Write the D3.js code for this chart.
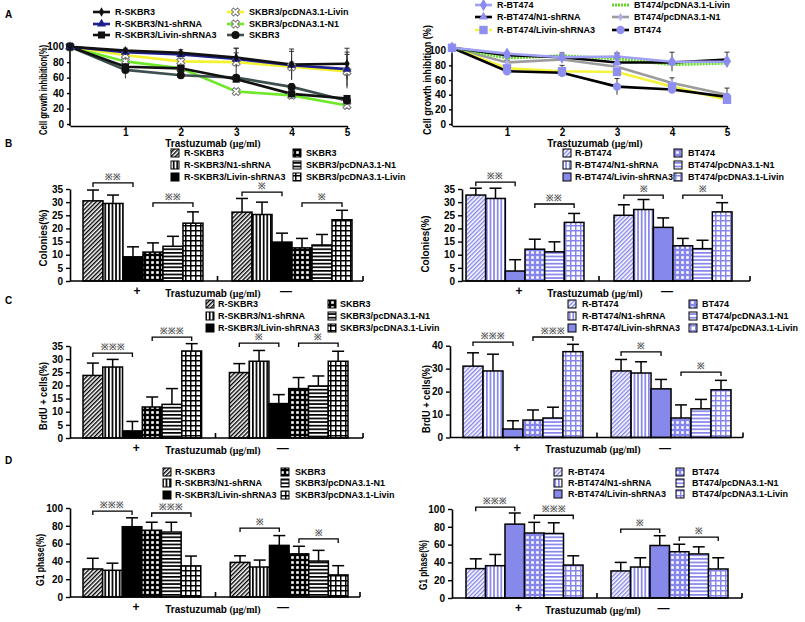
<!DOCTYPE html>
<html><head><meta charset="utf-8">
<script src="https://cdn.jsdelivr.net/npm/d3@7/dist/d3.min.js"></script>
<style>
body{margin:0;background:#fff}
text{font-family:Arial,"Liberation Sans",sans-serif;font-weight:bold;fill:#000}
</style></head>
<body><svg id="chart" width="805" height="622"></svg>
<script>
// ---------------- DATA ----------------
const doses = [0, 1, 2, 3, 4, 5];
const doseTicks = [1, 2, 3, 4, 5];

// Panel A left (SKBR3)
const skLineNames = ["R-SKBR3", "R-SKBR3/N1-shRNA", "R-SKBR3/Livin-shRNA3", "SKBR3/pcDNA3.1-Livin", "SKBR3/pcDNA3.1-N1", "SKBR3"];
const skR      = [100, 95, 92, 86, 77, 78];
const skRN1    = [100, 93, 90, 84, 76, 71];
const skRLivin = [100, 74, 72, 58, 39, 33];
const skLivin  = [100, 89, 81, 80, 74, 68];
const skN1     = [100, 81, 72, 42, 37, 24];
const skParent = [100, 70, 63, 60, 48, 30];
const skRErr      = [0, 3, 4, 12, 20, 20];
const skRN1Err    = [0, 3, 3, 8, 18, 22];
const skRLivinErr = [0, 4, 3, 4, 3, 3];
const skLivinErr  = [0, 6, 4, 18, 6, 22];
const skN1Err     = [0, 5, 4, 3, 3, 3];
const skParentErr = [0, 11, 3, 3, 4, 3];

// Panel A right (BT474)
const btLineNames = ["R-BT474", "R-BT474/N1-shRNA", "R-BT474/Livin-shRNA3", "BT474/pcDNA3.1-Livin", "BT474/pcDNA3.1-N1", "BT474"];
const btR      = [104, 96, 91, 92, 85, 85];
const btRN1    = [104, 94, 91, 84, 84, 88];
const btRLivin = [104, 76, 72, 71, 51, 33];
const btLivin  = [104, 90, 93, 89, 81, 83];
const btN1     = [104, 84, 88, 78, 56, 40];
const btParent = [104, 72, 70, 51, 47, 37];
const btRErr      = [0, 2, 2, 4, 13, 3];
const btRN1Err    = [0, 2, 6, 13, 3, 10];
const btRLivinErr = [0, 3, 8, 3, 3, 3];
const btLivinErr  = [0, 2, 2, 2, 2, 2];
const btN1Err     = [0, 3, 3, 3, 7, 9];
const btParentErr = [0, 3, 3, 11, 3, 3];

// Bar charts
const groups = ["+", "—"];
const skBarNames = ["R-SKBR3", "R-SKBR3/N1-shRNA", "R-SKBR3/Livin-shRNA3", "SKBR3", "SKBR3/pcDNA3.1-N1", "SKBR3/pcDNA3.1-Livin"];
const btBarNames = ["R-BT474", "R-BT474/N1-shRNA", "R-BT474/Livin-shRNA3", "BT474", "BT474/pcDNA3.1-N1", "BT474/pcDNA3.1-Livin"];

// B: Colonies(%)
const colSkPlus = [30.5, 29.5, 9.2, 11, 13.2, 22];
const colSkPlusErr = [4.1, 3.2, 3.8, 3.5, 3.8, 4.3];
const colSkMinus = [26.2, 25.3, 14.8, 12.6, 13.7, 23.3];
const colSkMinusErr = [5.2, 4.7, 3.4, 3.6, 4, 3.6];
const colBtPlus = [32.7, 31.4, 3.8, 12.1, 11.1, 22.3];
const colBtPlusErr = [2.6, 3.9, 4.3, 3.8, 3.8, 3.4];
const colBtMinus = [25, 27.2, 20.4, 13.4, 12.3, 26.3];
const colBtMinusErr = [4, 3.8, 3.6, 2.8, 3.2, 3.5];

// C: BrdU + cells(%)
const brdSkPlus = [23.8, 27, 2.7, 11.8, 12.8, 33.1];
const brdSkPlusErr = [4.7, 2.9, 3.6, 3.8, 6, 2.8];
const brdSkMinus = [24.9, 29.2, 13.1, 18.8, 19.8, 29.2];
const brdSkMinusErr = [3.4, 4.1, 3.4, 4.2, 3.8, 3.8];
const brdBtPlus = [31.1, 29, 3.7, 7.6, 8.5, 37.4];
const brdBtPlusErr = [5.8, 7.3, 3.6, 4.4, 4.7, 3.2];
const brdBtMinus = [29, 28.1, 21.2, 8.5, 12.5, 20.8];
const brdBtMinusErr = [5, 4.9, 4.1, 5.7, 4.1, 4.1];

// D: G1 phase(%)
const g1SkPlus = [31.5, 30, 79, 75, 73, 35];
const g1SkPlusErr = [12, 8, 10, 9, 11, 11];
const g1SkMinus = [38.9, 33.7, 58, 48.5, 40.4, 24.8];
const g1SkMinusErr = [7.4, 7.8, 11, 8.5, 12, 10.4];
const g1BtPlus = [33, 36.3, 83, 73, 72.5, 37];
const g1BtPlusErr = [11, 12.6, 12.5, 12, 12, 10.4];
const g1BtMinus = [30.4, 34.8, 59, 52, 49.5, 32.6];
const g1BtMinusErr = [9.6, 10.4, 11, 8.4, 8, 12.6];

// Significance brackets: [group index, from bar, to bar, value level, label]
const colSkSig = [[0,0,2,37.3,"※※"],[0,3,5,29.7,"※※"],[1,0,2,33.8,"※"],[1,3,5,29.7,"※"]];
const colBtSig = [[0,0,2,37.6,"※※"],[0,3,5,29.3,"※※"],[1,0,2,32.7,"※"],[1,3,5,32.7,"※"]];
const brdSkSig = [[0,0,2,32.3,"※※※"],[0,3,5,38.4,"※※※"],[1,0,2,36.1,"※"],[1,3,5,36.1,"※"]];
const brdBtSig = [[0,0,2,41.6,"※※※"],[0,3,5,43.8,"※※※"],[1,0,2,37.3,"※"],[1,3,5,28.5,"※"]];
const g1SkSig  = [[0,0,2,96.6,"※※※"],[0,3,5,94.4,"※※※"],[1,0,2,77.5,"※"],[1,3,5,65.2,"※"]];
const g1BtSig  = [[0,0,2,102,"※※※"],[0,3,5,93,"※※※"],[1,0,2,77.5,"※"],[1,3,5,68.5,"※"]];

// ---------------- DRAWING ----------------
const svg = d3.select("#chart");
const defs = svg.append("defs");
const BLUE = "#8585ec";
const BLUE_SOLID = "#8688ea";
const LEG_FS = 9;

function pat(id, w, h, bg, draw, transform) {
  const p = defs.append("pattern").attr("id", id).attr("patternUnits", "userSpaceOnUse")
    .attr("width", w).attr("height", h);
  if (transform) p.attr("patternTransform", transform);
  p.append("rect").attr("width", w).attr("height", h).attr("fill", bg);
  draw(p);
}
function makePatterns(prefix, col, solid) {
  pat(prefix + "0", 3, 3, "#fff", p => p.append("rect").attr("width", 1.4).attr("height", 3).attr("fill", col), "rotate(45)");
  pat(prefix + "1", 3.6, 4, "#fff", p => p.append("rect").attr("width", 1.7).attr("height", 4).attr("fill", col));
  pat(prefix + "3", 5, 5, col, p => p.append("rect").attr("x", 1.2).attr("y", 1.2).attr("width", 2.6).attr("height", 2.6).attr("fill", "#fff"));
  pat(prefix + "4", 4, 3.6, "#fff", p => p.append("rect").attr("width", 4).attr("height", 1.7).attr("fill", col));
  pat(prefix + "5", 5, 5, "#fff", p => {
    p.append("rect").attr("width", 1.5).attr("height", 5).attr("fill", col);
    p.append("rect").attr("width", 5).attr("height", 1.5).attr("fill", col);
  });
  return [`url(#${prefix}0)`, `url(#${prefix}1)`, solid, `url(#${prefix}3)`, `url(#${prefix}4)`, `url(#${prefix}5)`];
}
const skFills = makePatterns("pk", "#000", "#000");
const btFills = makePatterns("pb", BLUE, BLUE_SOLID);

function label(x, y, txt, size, anchor) {
  return svg.append("text").attr("x", x).attr("y", y).attr("font-size", size || 10)
    .attr("text-anchor", anchor || "start").text(txt);
}
function yTitle(x, yc, txt, len) {
  svg.append("text").attr("transform", `translate(${x},${yc}) rotate(-90)`)
    .attr("text-anchor", "middle").attr("dy", "0.35em").attr("font-size", 11)
    .attr("textLength", len).attr("lengthAdjust", "spacingAndGlyphs").text(txt);
}
function xTitle(xc, y) {
  const t = svg.append("text").attr("x", xc).attr("y", y).attr("text-anchor", "middle").attr("font-size", 10);
  t.append("tspan").text("Trastuzumab");
  t.append("tspan").attr("font-family", "'Liberation Serif','DejaVu Serif',serif").text(" (μg/ml)");
}
function styleAxis(g) {
  g.selectAll("path").attr("stroke", "#000").attr("stroke-width", 1.6);
  g.selectAll("line").attr("stroke", "#000").attr("stroke-width", 1.4);
  g.selectAll("text").attr("font-size", 10).attr("font-weight", "bold").attr("font-family", "Arial,'Liberation Sans',sans-serif");
}

// panel letters
label(5, 18, "A", 10);
label(5, 147, "B", 10);
label(5, 304, "C", 10);
label(5, 464, "D", 10);

// ---------- line panels ----------
function linePanel(cfg) {
  const x = d3.scaleLinear().domain([0, 5]).range([cfg.x0, cfg.x1]);
  const y = d3.scaleLinear().domain([0, 100]).range([cfg.y0, cfg.y100]);
  const g = svg.append("g");
  const ya = g.append("g").attr("transform", `translate(${cfg.x0},0)`)
    .call(d3.axisLeft(y).tickValues([0, 20, 40, 60, 80, 100]).tickSize(3).tickSizeOuter(0).tickPadding(3));
  ya.select("path").remove();
  styleAxis(ya);
  g.append("line").attr("x1", cfg.x0).attr("x2", cfg.x0).attr("y1", cfg.y0 + 2).attr("y2", y(cfg.yAxisTop))
    .attr("stroke", "#000").attr("stroke-width", 1.6);
  const xa = g.append("g").attr("transform", `translate(0,${cfg.y0 + 2})`)
    .call(d3.axisBottom(x).tickValues(doseTicks).tickFormat(d3.format("d")).tickSize(2).tickSizeOuter(0).tickPadding(1));
  styleAxis(xa);
  cfg.series.forEach(s => {
    const line = d3.line().x((d, i) => x(doses[i])).y(d => y(d));
    g.append("path").attr("d", line(s.vals)).attr("fill", "none").attr("stroke", s.color)
      .attr("stroke-width", s.width || 2.6).attr("stroke-dasharray", s.dash || null);
  });
  cfg.series.forEach(s => {
    s.vals.forEach((v, i) => {
      const e = s.err[i];
      if (e > 0) {
        const cx = x(doses[i]);
        g.append("line").attr("x1", cx).attr("x2", cx).attr("y1", y(v - e)).attr("y2", y(v + e)).attr("stroke", "#333").attr("stroke-width", 1);
        g.append("line").attr("x1", cx - 2.5).attr("x2", cx + 2.5).attr("y1", y(v + e)).attr("y2", y(v + e)).attr("stroke", "#333").attr("stroke-width", 1);
      }
    });
  });
  cfg.series.forEach(s => {
    if (!s.symbol) return;
    s.vals.forEach((v, i) => {
      g.append("path").attr("d", d3.symbol().type(s.symbol).size(s.msize)())
        .attr("transform", `translate(${x(doses[i])},${y(v)}) rotate(${s.rot || 0})`)
        .attr("fill", s.mfill).attr("stroke", s.mstroke || "none").attr("stroke-width", 1);
    });
  });
  cfg.series.forEach(s => {
    const [lx, ly] = s.leg;
    g.append("line").attr("x1", lx).attr("x2", lx + 17).attr("y1", ly).attr("y2", ly)
      .attr("stroke", s.color).attr("stroke-width", s.width || 2.6).attr("stroke-dasharray", s.legDash || s.dash || null);
    if (s.symbol) g.append("path").attr("d", d3.symbol().type(s.symbol).size(s.msize)())
      .attr("transform", `translate(${lx + 8.5},${ly}) rotate(${s.rot || 0})`)
      .attr("fill", s.mfill).attr("stroke", s.mstroke || "none");
    g.append("text").attr("x", lx + 22).attr("y", ly).attr("dy", "0.35em").attr("font-size", LEG_FS).text(s.name);
  });
}

linePanel({
  x0: 70, x1: 347, y0: 124, y100: 46.7, yAxisTop: 101,
  series: [
    { name: skLineNames[4], vals: skN1, err: skN1Err, color: "#6fe82a", symbol: d3.symbolCross, rot: 45, msize: 40, mfill: "#fff", mstroke: "#777", leg: [227, 24] },
    { name: skLineNames[3], vals: skLivin, err: skLivinErr, color: "#f2f230", symbol: d3.symbolCross, rot: 45, msize: 40, mfill: "#fff", mstroke: "#777", leg: [227, 12] },
    { name: skLineNames[5], vals: skParent, err: skParentErr, color: "#3d4f4f", symbol: d3.symbolCircle, msize: 50, mfill: "#111", leg: [227, 35] },
    { name: skLineNames[2], vals: skRLivin, err: skRLivinErr, color: "#111", symbol: d3.symbolSquare, msize: 50, mfill: "#111", leg: [93, 35] },
    { name: skLineNames[1], vals: skRN1, err: skRN1Err, color: "#1e1e8c", symbol: d3.symbolTriangle, msize: 35, mfill: "#1e1e8c", leg: [93, 24] },
    { name: skLineNames[0], vals: skR, err: skRErr, color: "#111", symbol: d3.symbolDiamond, msize: 25, mfill: "#111", leg: [93, 12] }
  ]
});

linePanel({
  x0: 452, x1: 727, y0: 124, y100: 50.7, yAxisTop: 105,
  series: [
    { name: btLineNames[4], vals: btN1, err: btN1Err, color: "#9c9c9c", symbol: d3.symbolDiamond, msize: 20, mfill: "#b0b0f0", leg: [612, 17] },
    { name: btLineNames[2], vals: btRLivin, err: btRLivinErr, color: "#f4f43c", symbol: d3.symbolSquare, msize: 70, mfill: "#8f8ff2", leg: [475, 30], legDash: "5,2" },
    { name: btLineNames[5], vals: btParent, err: btParentErr, color: "#000", symbol: d3.symbolCircle, msize: 55, mfill: "#8f8ff2", leg: [612, 30] },
    { name: btLineNames[3], vals: btLivin, err: btLivinErr, color: "#62d82a", dash: "2,1", width: 3, leg: [612, 5] },
    { name: btLineNames[1], vals: btRN1, err: btRN1Err, color: "#000", symbol: d3.symbolTriangle, msize: 35, mfill: "#8f8ff2", leg: [475, 17] },
    { name: btLineNames[0], vals: btR, err: btRErr, color: "#a0a0f4", symbol: d3.symbolDiamond, msize: 45, mfill: "#8a8af0", leg: [475, 5] }
  ]
});

yTitle(43, 90, "Cell growth inhibition(%)", 90);
yTitle(427, 80, "Cell growth inhibition (%)", 110);
xTitle(213, 147);
xTitle(595, 147);

// ---------- bar panels ----------
function barPanel(cfg) {
  const y = d3.scaleLinear().domain([0, cfg.yMax]).range([cfg.y0, cfg.yTop]);
  const xg = d3.scaleBand().domain(groups).range([cfg.b0, cfg.b1]).paddingInner(cfg.pin);
  const xb = d3.scaleBand().domain(d3.range(6)).range([0, xg.bandwidth()]);
  const g = svg.append("g");
  const data = [
    { gr: groups[0], vals: cfg.plus, errs: cfg.plusErr },
    { gr: groups[1], vals: cfg.minus, errs: cfg.minusErr }
  ];
  data.forEach(r => {
    const gx = xg(r.gr);
    r.vals.forEach((v, i) => {
      const cx = gx + xb(i) + xb.bandwidth() / 2;
      const top = y(v + r.errs[i]);
      g.append("line").attr("x1", cx).attr("x2", cx).attr("y1", y(v)).attr("y2", top).attr("stroke", "#000").attr("stroke-width", 1.5);
      g.append("line").attr("x1", cx - 6).attr("x2", cx + 6).attr("y1", top).attr("y2", top).attr("stroke", "#000").attr("stroke-width", 1.5);
      g.append("rect").attr("x", gx + xb(i)).attr("y", y(v)).attr("width", xb.bandwidth()).attr("height", y(0) - y(v))
        .attr("fill", cfg.fills[i]).attr("stroke", "#000").attr("stroke-width", 1.5);
    });
    g.append("text").attr("x", gx + xg.bandwidth() / 2 - 6).attr("y", cfg.y0 + 14).attr("text-anchor", "middle")
      .attr("font-size", 12).attr("font-weight", "normal").attr("fill", "#222").text(r.gr);
  });
  cfg.sig.forEach(([gi, a, b, lv, txt]) => {
    const gx = xg(groups[gi]);
    const xa = gx + xb(a) + xb.bandwidth() / 2, xbb = gx + xb(b) + xb.bandwidth() / 2;
    const yy = y(lv);
    g.append("path").attr("d", `M${xa},${yy + 4}V${yy}H${xbb}V${yy + 4}`).attr("fill", "none").attr("stroke", "#000").attr("stroke-width", 1.3);
    g.append("text").attr("x", (xa + xbb) / 2).attr("y", yy - 3).attr("text-anchor", "middle")
      .attr("font-size", 9).attr("font-weight", "normal").attr("font-family", "'Noto Sans CJK SC',sans-serif")
      .style("fill", "#555").text(txt);
  });
  const ya = g.append("g").attr("transform", `translate(${cfg.ax0},0)`)
    .call(d3.axisLeft(y).tickValues(d3.range(0, cfg.yMax + 0.01, cfg.step)).tickSize(4).tickSizeOuter(0).tickPadding(3));
  styleAxis(ya);
  const mid = (xg(groups[0]) + xg.bandwidth() + xg(groups[1])) / 2;
  g.append("path").attr("d", `M${cfg.ax0},${cfg.y0}H${cfg.ax1}M${mid},${cfg.y0}V${cfg.y0 - 5}M${cfg.ax1},${cfg.y0}V${cfg.y0 - 5}`)
    .attr("fill", "none").attr("stroke", "#000").attr("stroke-width", 1.6);
  cfg.names.forEach((n, i) => {
    const col = i < 3 ? 0 : 1, row = i % 3;
    const mx = cfg.leg.mx[col], tx = cfg.leg.tx[col], ly = cfg.leg.rows[row];
    g.append("rect").attr("x", mx - 4).attr("y", ly - 4).attr("width", 8).attr("height", 8)
      .attr("fill", cfg.fills[i]).attr("stroke", "#000").attr("stroke-width", 1);
    g.append("text").attr("x", tx).attr("y", ly).attr("dy", "0.35em").attr("font-size", LEG_FS).text(n);
  });
  yTitle(cfg.yt[0], cfg.yt[1], cfg.ytitle, cfg.yt[2]);
  xTitle(cfg.xt, cfg.y0 + 15.5);
}

barPanel({ ax0: 70, ax1: 363, b0: 83, b1: 352, pin: 0.195, y0: 281, yTop: 189, yMax: 35, step: 5,
  plus: colSkPlus, plusErr: colSkPlusErr, minus: colSkMinus, minusErr: colSkMinusErr, fills: skFills,
  sig: colSkSig, names: skBarNames, leg: { mx: [175, 297], tx: [184, 306], rows: [153, 165, 177] },
  ytitle: "Colonies(%)", yt: [43, 238, 57], xt: 213 });
barPanel({ ax0: 462, ax1: 750, b0: 466, b1: 732, pin: 0.203, y0: 281, yTop: 189, yMax: 35, step: 5,
  plus: colBtPlus, plusErr: colBtPlusErr, minus: colBtMinus, minusErr: colBtMinusErr, fills: btFills,
  sig: colBtSig, names: btBarNames, leg: { mx: [567, 678], tx: [575, 688], rows: [153, 165, 177] },
  ytitle: "Colonies(%)", yt: [425, 244, 57], xt: 595 });
barPanel({ ax0: 70, ax1: 363, b0: 83, b1: 348, pin: 0.19, y0: 438, yTop: 346, yMax: 35, step: 5,
  plus: brdSkPlus, plusErr: brdSkPlusErr, minus: brdSkMinus, minusErr: brdSkMinusErr, fills: skFills,
  sig: brdSkSig, names: skBarNames, leg: { mx: [210, 332], tx: [218, 340], rows: [304, 316, 328] },
  ytitle: "BrdU + cells(%)", yt: [43, 396, 68], xt: 213 });
barPanel({ ax0: 450, ax1: 743, b0: 463, b1: 731, pin: 0.19, y0: 437.5, yTop: 345.7, yMax: 40, step: 10,
  plus: brdBtPlus, plusErr: brdBtPlusErr, minus: brdBtMinus, minusErr: brdBtMinusErr, fills: btFills,
  sig: brdBtSig, names: btBarNames, leg: { mx: [572, 693], tx: [582, 702], rows: [304, 316, 328] },
  ytitle: "BrdU + cells(%)", yt: [426, 399, 68], xt: 593 });
barPanel({ ax0: 70, ax1: 360, b0: 83, b1: 348, pin: 0.2, y0: 597, yTop: 508, yMax: 100, step: 20,
  plus: g1SkPlus, plusErr: g1SkPlusErr, minus: g1SkMinus, minusErr: g1SkMinusErr, fills: skFills,
  sig: g1SkSig, names: skBarNames, leg: { mx: [167, 285], tx: [175, 295], rows: [472, 483, 495] },
  ytitle: "G1 phase(%)", yt: [40, 560, 52], xt: 213 });
barPanel({ ax0: 452, ax1: 742, b0: 466, b1: 728, pin: 0.193, y0: 598, yTop: 509, yMax: 100, step: 20,
  plus: g1BtPlus, plusErr: g1BtPlusErr, minus: g1BtMinus, minusErr: g1BtMinusErr, fills: btFills,
  sig: g1BtSig, names: btBarNames, leg: { mx: [558, 680], tx: [568, 692], rows: [472, 483, 494] },
  ytitle: "G1 phase(%)", yt: [423, 565, 50], xt: 593 });
</script>
</body></html>
